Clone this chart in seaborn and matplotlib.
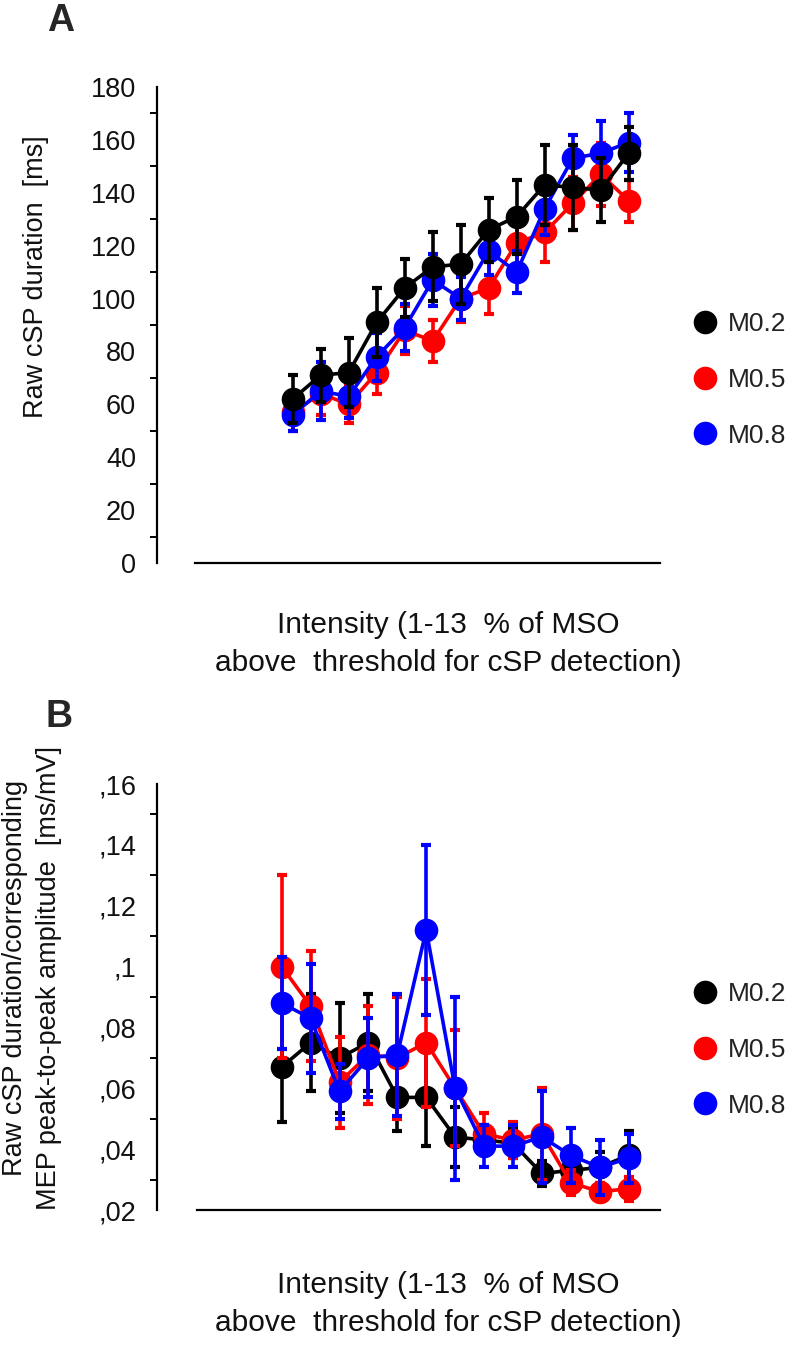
import matplotlib
matplotlib.use("Agg")
import matplotlib.pyplot as plt
from matplotlib.lines import Line2D
from matplotlib.ticker import MultipleLocator, FixedLocator, FixedFormatter
import pandas as pd
import seaborn as sns

sns.set_theme(style="white")
plt.rcParams["font.family"] = ["Liberation Sans", "DejaVu Sans"]

# ---- data ----
intensity = list(range(1, 14))
groups = ["M0.2", "M0.5", "M0.8"]
colors = ["#000000", "#ff0000", "#0000ff"]

# A: raw cSP duration [ms]
dur_m02 = [62, 71, 72, 91, 104, 112, 113, 126, 131, 143, 142, 141, 155]
dur_m05 = [57, 64, 60, 72, 88, 84, 100, 104, 121, 125, 136, 147, 137]
dur_m08 = [56, 65, 63, 78, 89, 107, 100, 118, 110, 134, 153, 155, 159]
dur_err_m02 = [9, 10, 13, 13, 11, 13, 15, 12, 14, 15, 16, 12, 10]
dur_err_m05 = [7, 8, 7, 8, 9, 8, 9, 10, 9, 11, 10, 12, 8]
dur_err_m08 = [6, 11, 8, 9, 9, 10, 8, 9, 8, 10, 9, 12, 11]

# B: cSP duration / MEP amplitude [ms/mV]
ratio_m02 = [0.067, 0.075, 0.070, 0.075, 0.057, 0.057, 0.044, 0.043, 0.042, 0.032, 0.033, 0.034, 0.038]
ratio_m05 = [0.100, 0.087, 0.062, 0.071, 0.070, 0.075, 0.060, 0.045, 0.043, 0.045, 0.029, 0.026, 0.027]
ratio_m08 = [0.088, 0.083, 0.059, 0.070, 0.071, 0.112, 0.060, 0.041, 0.041, 0.044, 0.038, 0.034, 0.037]
ratio_err_m02 = [0.018, 0.016, 0.018, 0.016, 0.011, 0.016, 0.010, 0.005, 0.005, 0.004, 0.004, 0.005, 0.008]
ratio_err_m05 = [0.030, 0.018, 0.015, 0.016, 0.020, 0.021, 0.019, 0.007, 0.006, 0.015, 0.004, 0.003, 0.004]
ratio_err_m08 = [0.015, 0.018, 0.009, 0.013, 0.020, 0.028, 0.030, 0.007, 0.007, 0.015, 0.009, 0.009, 0.008]

yticks_b = [0.02, 0.04, 0.06, 0.08, 0.10, 0.12, 0.14, 0.16]
yticklabels_b = [",02", ",04", ",06", ",08", ",1", ",12", ",14", ",16"]

xlabel_txt = "Intensity (1-13  % of MSO\nabove  threshold for cSP detection)"

W, H = 791, 1361
fig = plt.figure(figsize=(W / 100, H / 100), dpi=100)


def draw_panel(ax, series, errs, zorders):
    for g, c, vals, err, z in zip(groups, colors, series, errs, zorders):
        ax.errorbar(intensity, vals, yerr=err, fmt="none", ecolor=c, elinewidth=2.6,
                    capsize=3.5, capthick=3, zorder=z, clip_on=False)
        sns.lineplot(x=intensity, y=vals, color=c, marker="o", markersize=17,
                     markeredgewidth=0, linewidth=2.6, ax=ax, zorder=z + 0.5,
                     clip_on=False)


def style_axes(ax, xl, xr, spine_left):
    ax.set_xlim(xl, xr)
    sns.despine(ax=ax)
    for s in ["left", "bottom"]:
        ax.spines[s].set_linewidth(1.6)
        ax.spines[s].set_color("black")
    ax.spines["bottom"].set_bounds(spine_left, xr)
    ax.set_xticks(intensity)
    ax.tick_params(axis="x", which="major", direction="out", length=5, width=1.6,
                   labelbottom=False, color="black")
    ax.tick_params(axis="y", which="major", direction="out", length=8, width=1.6,
                   labelsize=19.5, color="black", pad=7, labelcolor="#111111")
    ax.tick_params(axis="y", which="minor", direction="out", length=5, width=1.4,
                   color="black", left=True)
    ax.set_xlabel("")
    ax.set_ylabel("")
    ax.grid(False)


# ---- panel A ----
axA = fig.add_axes([157 / W, 1 - 563 / H, (660 - 157) / W, (563 - 87) / H])
draw_panel(axA, [dur_m02, dur_m05, dur_m08], [dur_err_m02, dur_err_m05, dur_err_m08], [5, 3, 4])
axA.set_ylim(0, 180)
axA.yaxis.set_major_locator(MultipleLocator(20))
axA.yaxis.set_minor_locator(MultipleLocator(10))
style_axes(axA, 1 + (157 - 292.7) / 28, 1 + (660 - 292.7) / 28, 1 + (195 - 292.7) / 28)

# ---- panel B ----
axB = fig.add_axes([157 / W, 1 - 1210 / H, (660 - 157) / W, (1210 - 784) / H])
draw_panel(axB, [ratio_m02, ratio_m05, ratio_m08], [ratio_err_m02, ratio_err_m05, ratio_err_m08], [3, 4, 5])
axB.set_ylim(0.02, 0.16)
axB.yaxis.set_major_locator(FixedLocator(yticks_b))
axB.yaxis.set_major_formatter(FixedFormatter(yticklabels_b))
axB.yaxis.set_minor_locator(MultipleLocator(0.01))
style_axes(axB, 1 + (157 - 281.7) / 28.9, 1 + (660 - 281.7) / 28.9, 1 + (197 - 281.7) / 28.9)

# ---- legends ----
handles = [Line2D([], [], marker="o", linestyle="", color=c, markersize=17, markeredgewidth=0)
           for c in colors]
for ax, yc in [(axA, 380), (axB, 1050)]:
    ax.legend(handles, groups, loc="center left", bbox_to_anchor=(692 / W, 1 - yc / H),
              bbox_transform=fig.transFigure, frameon=False, fontsize=19,
              handlelength=1.0, handletextpad=0.35, labelspacing=1.2, borderpad=0,
              borderaxespad=0, labelcolor="#222222")

# ---- texts ----
fig.text(448 / W, 1 - 611 / H, xlabel_txt, ha="center", va="top", fontsize=21.5,
         linespacing=1.45, color="#111111")
fig.text(448 / W, 1 - 1271 / H, xlabel_txt, ha="center", va="top", fontsize=21.5,
         linespacing=1.45, color="#111111")
fig.text(36 / W, 1 - 277 / H, "Raw cSP duration  [ms]", rotation=90, ha="center",
         va="center", fontsize=19.5, color="#111111")
fig.text(32 / W, 1 - 978 / H, "Raw cSP duration/corresponding\nMEP peak-to-peak amplitude  [ms/mV]",
         rotation=90, ha="center", va="center", fontsize=19.5, linespacing=1.4,
         color="#111111")
fig.text(61 / W, 1 - 21 / H, "A", ha="center", va="center", fontsize=27, fontweight="bold")
fig.text(59 / W, 1 - 717 / H, "B", ha="center", va="center", fontsize=27, fontweight="bold")

fig.savefig("out.png", dpi=100)
